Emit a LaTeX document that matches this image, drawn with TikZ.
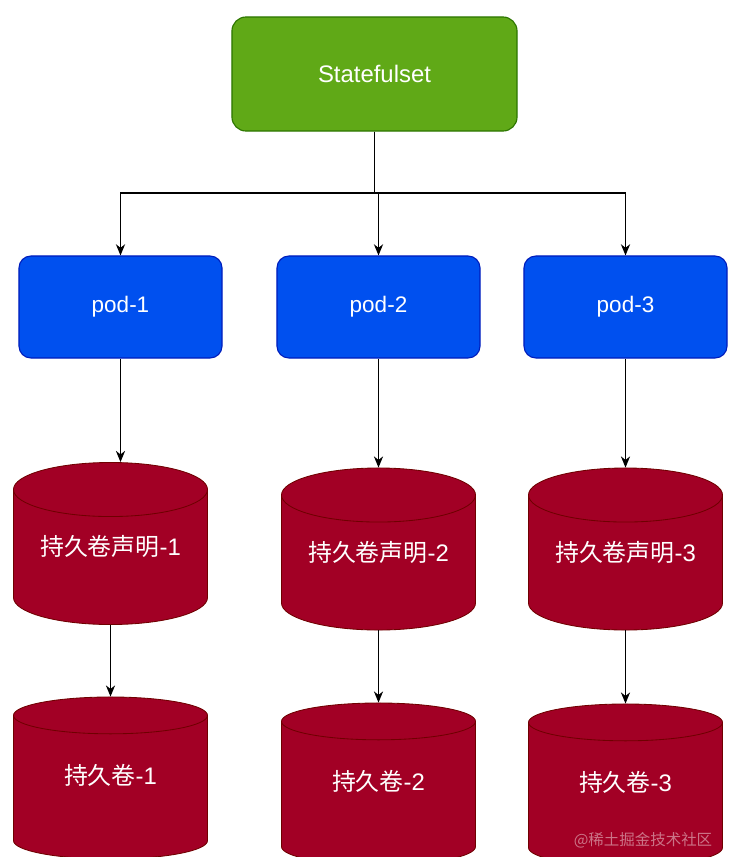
\documentclass[tikz,border=0pt]{standalone}
\usepackage{fontspec}
\setmainfont{Liberation Sans}
\newfontfamily\cjk{Noto Sans CJK SC}
\usetikzlibrary{shapes.geometric,arrows.meta}
\definecolor{setgreen}{HTML}{60A917}
\definecolor{setedge}{HTML}{2D7600}
\definecolor{podblue}{HTML}{0050EF}
\definecolor{podedge}{HTML}{001DBC}
\definecolor{volred}{HTML}{A20025}
\definecolor{voledge}{HTML}{6F0000}
\newcommand{\vollabel}[1]{\raisebox{22pt}{#1}}
\begin{document}
\begin{tikzpicture}[x=0.025cm,y=-0.025cm,
   every node/.style={text=white,font=\fontsize{16}{19}\selectfont},
   conn/.style={-{Stealth[length=2.8mm,width=2.3mm,inset=0.9mm]},line width=0.8pt},
   setbox/.style={draw=setedge,fill=setgreen,line width=0.8pt,rounded corners=0.35cm,
      minimum width=7.125cm,minimum height=2.85cm,font=\fontsize{17}{20}\selectfont},
   podbox/.style={draw=podedge,fill=podblue,line width=0.8pt,rounded corners=0.3cm,
      minimum width=5.075cm,minimum height=2.55cm},
   store/.style={cylinder,shape border rotate=90,aspect=0.36,draw=voledge,fill=volred,
      line width=0.6pt,minimum width=4.85cm,minimum height=4.05cm,anchor=shape center,
      font=\fontsize{17}{20}\selectfont},
   wmark/.style={text=white,opacity=0.45,font=\fontsize{11}{13}\selectfont}]
   \useasboundingbox (0,0) rectangle (733,857);
   \clip (0,0) rectangle (733,857);

   \node[setbox] (set) at (374.5,74) {Statefulset};
   \node[podbox] (p1) at (120.5,307) {pod-1};
   \node[podbox] (p2) at (378.5,307) {pod-2};
   \node[podbox] (p3) at (625.5,307) {pod-3};

   \node[store] (c1) at (110.5,543.5) {\vollabel{{\cjk 持久卷声明}-1}};
   \node[store] (c2) at (378.5,549) {\vollabel{{\cjk 持久卷声明}-2}};
   \node[store] (c3) at (625.5,549) {\vollabel{{\cjk 持久卷声明}-3}};
   \node[store] (v1) at (110.5,778) {\vollabel{{\cjk 持久卷}-1}};
   \node[store] (v2) at (378.5,784) {\vollabel{{\cjk 持久卷}-2}};
   \node[store] (v3) at (625.5,785) {\vollabel{{\cjk 持久卷}-3}};

   \node[wmark] (wm) at (643,840) {\cjk @稀土掘金技术社区};

   \coordinate (fork) at (374.5,193);
   \draw[conn] (set.south) -- (fork) -| (p1.north);
   \draw[conn] (set.south) -- (fork) -| (p2.north);
   \draw[conn] (set.south) -- (fork) -| (p3.north);

   \draw[conn] (p1.south) -- (p1.south |- c1.north);
   \draw[conn] (p2.south) -- (p2.south |- c2.north);
   \draw[conn] (p3.south) -- (p3.south |- c3.north);
   \draw[conn] (c1.south) -- (v1.north);
   \draw[conn] (c2.south) -- (v2.north);
   \draw[conn] (c3.south) -- (v3.north);
\end{tikzpicture}
\end{document}
